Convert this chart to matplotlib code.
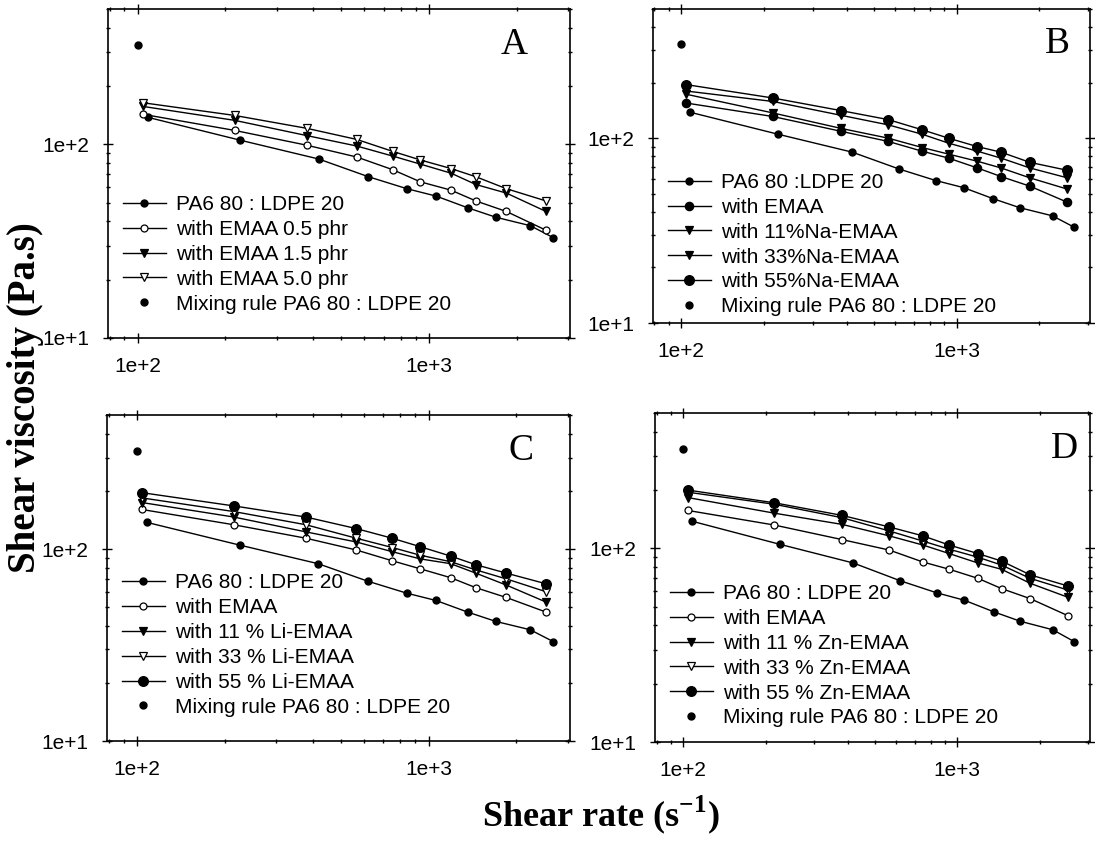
import matplotlib.pyplot as plt
from matplotlib.ticker import NullFormatter

plt.rcParams['font.family'] = ['Liberation Sans', 'DejaVu Sans']
plt.rcParams['mathtext.fontset'] = 'custom'
plt.rcParams['mathtext.rm'] = 'Liberation Serif:bold'
plt.rcParams['mathtext.bf'] = 'Liberation Serif:bold'

# shear rates (s^-1)
rate_base = [108, 225, 418, 620, 840, 1060, 1360, 1700, 2230, 2670]
rate_blend = [104, 215, 380, 565, 750, 935, 1190, 1450, 1845, 2525]
mix_rate = [100]
mix_visc = [325]

# PA6 80 : LDPE 20 (same in all four panels)
visc_base = [138, 105, 84, 68, 59, 54, 47, 42, 38, 33]

# A - EMAA content
a_labels = ['PA6 80 : LDPE 20', 'with EMAA 0.5 phr', 'with EMAA 1.5 phr',
            'with EMAA 5.0 phr', 'Mixing rule PA6 80 : LDPE 20']
a_visc = [
    [143, 118, 99, 86, 74, 64, 58, 51, 45, 36],
    [157, 133, 111, 98, 87, 79, 71, 62, 56, 45],
    [164, 141, 121, 106, 92, 83, 75, 68, 59, 51],
]

# B - Na ionomer
b_labels = ['PA6 80 :LDPE 20', 'with EMAA', 'with 11%Na-EMAA', 'with 33%Na-EMAA',
            'with 55%Na-EMAA', 'Mixing rule PA6 80 : LDPE 20']
b_visc = [
    [155, 131, 109, 96, 85, 78, 69, 62, 55, 45],
    [173, 137, 113, 100, 89, 82, 75, 69, 61, 53],
    [180, 158, 133, 118, 105, 94, 85, 78, 69, 61],
    [195, 165, 141, 126, 111, 100, 90, 84, 74, 67],
]

# C - Li ionomer
c_labels = ['PA6 80 : LDPE 20', 'with EMAA', 'with 11 % Li-EMAA', 'with 33 % Li-EMAA',
            'with 55 % Li-EMAA', 'Mixing rule PA6 80 : LDPE 20']
c_visc = [
    [161, 134, 114, 99, 87, 79, 71, 63, 56, 47],
    [175, 147, 123, 109, 97, 89, 84, 75, 65, 53],
    [185, 157, 134, 114, 102, 93, 86, 78, 70, 60],
    [197, 168, 147, 128, 114, 103, 92, 83, 75, 66],
]

# D - Zn ionomer
d_labels = ['PA6 80 : LDPE 20', 'with EMAA', 'with 11 % Zn-EMAA', 'with 33 % Zn-EMAA',
            'with 55 % Zn-EMAA', 'Mixing rule PA6 80 : LDPE 20']
d_visc = [
    [157, 132, 111, 98, 85, 78, 70, 62, 55, 45],
    [183, 152, 133, 116, 104, 94, 84, 78, 66, 56],
    [195, 169, 144, 123, 109, 99, 90, 82, 70, 61],
    [200, 172, 148, 129, 116, 104, 94, 86, 73, 64],
]

# marker styles: (marker, filled, size)
style_a = [('o', False, 5), ('v', True, 6), ('v', False, 6)]
style_ion = [('o', False, 5), ('v', True, 6), ('v', False, 6), ('o', True, 7)]
style_b = [('o', True, 6), ('v', True, 6), ('v', True, 6), ('o', True, 7)]


def draw_panel(ax, letter, labels, series, styles, letter_x, leg_y):
    ax.plot(rate_base, visc_base, '-', color='black', lw=1.0,
            marker='o', ms=5, mfc='black', mec='black', label=labels[0])
    for vals, lab, (mk, filled, ms) in zip(series, labels[1:-1], styles):
        ax.plot(rate_blend, vals, '-', color='black', lw=1.0, marker=mk, ms=ms,
                mfc='black' if filled else 'white', mec='black', mew=0.9, label=lab)
    ax.plot(mix_rate, mix_visc, 'o', color='black', ms=5, ls='none', label=labels[-1])

    ax.set_xscale('log')
    ax.set_yscale('log')
    ax.set_xlim(79, 3050)
    ax.set_ylim(10, 500)
    ax.set_xticks([100, 1000])
    ax.set_xticklabels(['1e+2', '1e+3'])
    ax.set_yticks([10, 100])
    ax.set_yticklabels(['1e+1', '1e+2'])
    ax.xaxis.set_minor_formatter(NullFormatter())
    ax.yaxis.set_minor_formatter(NullFormatter())
    ax.tick_params(which='both', direction='inout', top=True, right=True,
                   labelsize=15, width=1)
    ax.tick_params(which='major', length=7, pad=10)
    ax.tick_params(which='minor', length=3)
    for sp in ax.spines.values():
        sp.set_linewidth(1.2)

    ax.text(letter_x, 0.89, letter, transform=ax.transAxes, ha='center', va='center',
            fontsize=27, family='Liberation Serif')
    ax.legend(loc='lower left', bbox_to_anchor=(0.0, leg_y), frameon=False,
              fontsize=15, labelspacing=0.28, handlelength=2.1, handletextpad=0.45,
              borderaxespad=0.3)


fig = plt.figure(figsize=(10.95, 8.46), dpi=100)
ax_a = fig.add_axes([0.0986, 0.6005, 0.4219, 0.3889])
ax_b = fig.add_axes([0.5963, 0.6182, 0.3991, 0.3712])
ax_c = fig.add_axes([0.0977, 0.1241, 0.4228, 0.3853])
ax_d = fig.add_axes([0.5982, 0.1229, 0.3973, 0.3889])

draw_panel(ax_a, 'A', a_labels, a_visc, style_a, 0.88, 0.03)
draw_panel(ax_b, 'B', b_labels, b_visc, style_b, 0.925, -0.025)
draw_panel(ax_c, 'C', c_labels, c_visc, style_ion, 0.895, 0.03)
draw_panel(ax_d, 'D', d_labels, d_visc, style_ion, 0.94, 0.0)

fig.text(0.023, 0.53, 'Shear viscosity (Pa.s)', rotation=90, ha='center', va='center',
         fontsize=28, fontweight='bold', family='Liberation Serif')
fig.text(0.549, 0.037, r'Shear rate (s$^{-1}$)', ha='center', va='center',
         fontsize=26, fontweight='bold', family='Liberation Serif')

fig.savefig('out.png', dpi=100)
